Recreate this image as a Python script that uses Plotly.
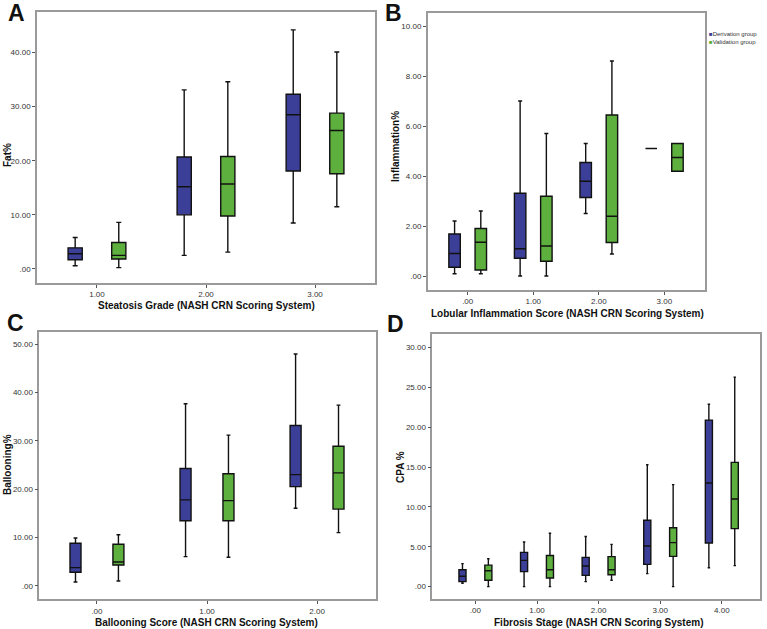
import plotly.graph_objects as go

# ---------------- data ----------------
# Panel A: Steatosis grade vs Fat%
A_cats = [1, 2, 3]
A_ticktext = ["1.00", "2.00", "3.00"]
A_der_low = [0.6, 2.5, 8.5]
A_der_q1 = [1.7, 10.0, 18.1]
A_der_med = [2.8, 15.2, 28.5]
A_der_q3 = [3.9, 20.7, 32.3]
A_der_up = [5.8, 33.1, 44.2]
A_val_low = [0.25, 3.1, 11.5]
A_val_q1 = [1.85, 9.8, 17.6]
A_val_med = [2.5, 15.7, 25.6]
A_val_q3 = [4.9, 20.8, 28.8]
A_val_up = [8.6, 34.6, 40.1]

# Panel B: Lobular inflammation vs Inflammation%
B_cats = [0, 1, 2, 3]
B_ticktext = [".00", "1.00", "2.00", "3.00"]
B_der_low = [0.09, 0.0, 2.5, 5.1]
B_der_q1 = [0.35, 0.71, 3.14, 5.1]
B_der_med = [0.9, 1.09, 3.79, 5.1]
B_der_q3 = [1.68, 3.31, 4.54, 5.1]
B_der_up = [2.2, 7.0, 5.3, 5.1]
B_val_low = [0.09, 0.0, 0.88, 4.19]
B_val_q1 = [0.24, 0.59, 1.34, 4.19]
B_val_med = [1.35, 1.2, 2.39, 4.74]
B_val_q3 = [1.9, 3.19, 6.44, 5.3]
B_val_up = [2.6, 5.7, 8.6, 5.3]

# Panel C: Ballooning score vs Ballooning%
C_cats = [0, 1, 2]
C_ticktext = [".00", "1.00", "2.00"]
C_der_low = [0.83, 6.07, 16.07]
C_der_q1 = [2.83, 13.5, 20.55]
C_der_med = [3.79, 17.8, 23.03]
C_der_q3 = [8.83, 24.3, 33.2]
C_der_up = [9.93, 37.7, 48.0]
C_val_low = [1.03, 5.93, 11.03]
C_val_q1 = [4.34, 13.5, 15.9]
C_val_med = [4.97, 17.65, 23.4]
C_val_q3 = [8.62, 23.2, 28.9]
C_val_up = [10.6, 31.2, 37.4]

# Panel D: Fibrosis stage vs CPA %
D_cats = [0, 1, 2, 3, 4]
D_ticktext = [".00", "1.00", "2.00", "3.00", "4.00"]
D_der_low = [0.42, 0.0, 0.63, 1.63, 2.38]
D_der_q1 = [0.63, 1.88, 1.42, 2.8, 5.48]
D_der_med = [1.3, 3.3, 2.6, 5.1, 13.0]
D_der_q3 = [2.13, 4.3, 3.68, 8.33, 20.9]
D_der_up = [2.89, 5.6, 6.3, 15.3, 22.9]
D_val_low = [0.0, 0.0, 0.8, 0.0, 2.64]
D_val_q1 = [0.8, 1.09, 1.5, 3.8, 7.28]
D_val_med = [2.0, 2.13, 2.13, 5.52, 11.0]
D_val_q3 = [2.7, 3.9, 3.77, 7.4, 15.6]
D_val_up = [3.5, 6.7, 5.3, 12.8, 26.3]

A_yticks = [0, 10, 20, 30, 40]
A_yticktext = [".00", "10.00", "20.00", "30.00", "40.00"]
B_yticks = [0, 2, 4, 6, 8, 10]
B_yticktext = [".00", "2.00", "4.00", "6.00", "8.00", "10.00"]
C_yticks = [0, 10, 20, 30, 40, 50]
C_yticktext = [".00", "10.00", "20.00", "30.00", "40.00", "50.00"]
D_yticks = [0, 5, 10, 15, 20, 25, 30]
D_yticktext = [".00", "5.00", "10.00", "15.00", "20.00", "25.00", "30.00"]

series_names = ["Derivation group", "Validation group"]
BLUE = "#3c3f97"
GREEN = "#5daf3e"

W, H = 767, 629
FONT = "Arial, Liberation Sans, sans-serif"

fig = go.Figure()

panels = [
    dict(ax="", cats=A_cats, der=(A_der_low, A_der_q1, A_der_med, A_der_q3, A_der_up),
         val=(A_val_low, A_val_q1, A_val_med, A_val_q3, A_val_up), off=0.2, w=0.13,
         xr=[0.45, 3.55], yr=[-2.6, 47.5], xd=[37, 375], yd=[12, 283],
         xtt=A_ticktext, yt=A_yticks, ytt=A_yticktext),
    dict(ax="2", cats=B_cats, der=(B_der_low, B_der_q1, B_der_med, B_der_q3, B_der_up),
         val=(B_val_low, B_val_q1, B_val_med, B_val_q3, B_val_up), off=0.2, w=0.175,
         xr=[-0.61, 3.62], yr=[-0.56, 10.52], xd=[427.7, 705], yd=[13, 290],
         xtt=B_ticktext, yt=B_yticks, ytt=B_yticktext),
    dict(ax="3", cats=C_cats, der=(C_der_low, C_der_q1, C_der_med, C_der_q3, C_der_up),
         val=(C_val_low, C_val_q1, C_val_med, C_val_q3, C_val_up), off=0.195, w=0.1,
         xr=[-0.524, 2.533], yr=[-2.76, 52.6], xd=[39.3, 375.7], yd=[331.7, 599.3],
         xtt=C_ticktext, yt=C_yticks, ytt=C_yticktext),
    dict(ax="4", cats=D_cats, der=(D_der_low, D_der_q1, D_der_med, D_der_q3, D_der_up),
         val=(D_val_low, D_val_q1, D_val_med, D_val_q3, D_val_up), off=0.21, w=0.115,
         xr=[-0.70, 4.62], yr=[-1.55, 31.67], xd=[432.3, 760], yd=[334.3, 599],
         xtt=D_ticktext, yt=D_yticks, ytt=D_yticktext),
]

layout_axes = {}
for p in panels:
    for stats, sign, color in ((p["der"], -1, BLUE), (p["val"], 1, GREEN)):
        low, q1, med, q3, up = stats
        fig.add_trace(go.Box(
            x=[c + sign * p["off"] for c in p["cats"]],
            lowerfence=low, q1=q1, median=med, q3=q3, upperfence=up,
            width=p["w"], whiskerwidth=0.35,
            fillcolor=color, line=dict(color="#111111", width=1.4),
            boxpoints=False, showlegend=False, hoverinfo="skip",
            xaxis="x" + p["ax"], yaxis="y" + p["ax"],
        ))
    xa = dict(domain=[p["xd"][0] / W, p["xd"][1] / W], range=p["xr"],
              tickvals=p["cats"], ticktext=p["xtt"], ticks="outside", ticklen=3,
              tickcolor="#555", tickwidth=1,
              showline=True, mirror=True, linecolor="#9a9a9a", linewidth=1.5,
              showgrid=False, zeroline=False, anchor="y" + p["ax"],
              tickfont=dict(size=8, color="#333", family=FONT))
    ya = dict(domain=[1 - p["yd"][1] / H, 1 - p["yd"][0] / H], range=p["yr"],
              tickvals=p["yt"], ticktext=p["ytt"], ticks="outside", ticklen=3,
              tickcolor="#555", tickwidth=1,
              showline=True, mirror=True, linecolor="#9a9a9a", linewidth=1.5,
              showgrid=False, zeroline=False, anchor="x" + p["ax"],
              tickfont=dict(size=8, color="#333", family=FONT))
    layout_axes["xaxis" + p["ax"]] = xa
    layout_axes["yaxis" + p["ax"]] = ya

annotations = []
def ann(text, x, y, size, angle=0, bold=True, xanchor="center", yanchor="middle", color="#111"):
    annotations.append(dict(text=("<b>%s</b>" % text) if bold else text,
                            x=x / W, y=1 - y / H, xref="paper", yref="paper",
                            showarrow=False, textangle=angle, xanchor=xanchor, yanchor=yanchor,
                            font=dict(size=size, family=FONT, color=color)))

# panel letters
ann("A", 6, 13, 23, xanchor="left")
ann("B", 383, 13, 23, xanchor="left")
ann("C", 5, 323, 23, xanchor="left")
ann("D", 385, 324, 23, xanchor="left")

# axis titles
ann("Steatosis Grade (NASH CRN Scoring System)", 206, 305, 10)
ann("Fat%", 8, 155, 10, angle=-90)
ann("Lobular Inflammation Score (NASH CRN Scoring System)", 567, 313, 10)
ann("Inflammation%", 396, 147, 10, angle=-90)
ann("Ballooning Score (NASH CRN Scoring System)", 207, 622, 10)
ann("Ballooning%", 7, 465, 10, angle=-90)
ann("Fibrosis Stage (NASH CRN Scoring System)", 598, 622, 10)
ann("CPA %", 400, 467, 10, angle=-90)

# legend
legend_text = "<br>".join("<span style='color:%s'>■</span>%s" % (col, name)
                          for name, col in zip(series_names, [BLUE, GREEN]))
annotations.append(dict(
    text=legend_text, align="left",
    x=708 / W, y=1 - 30 / H, xref="paper", yref="paper",
    showarrow=False, xanchor="left", yanchor="top", borderpad=0,
    font=dict(size=6, family=FONT, color="#333")))

fig.update_layout(
    width=W, height=H, margin=dict(l=0, r=0, t=0, b=0),
    paper_bgcolor="white", plot_bgcolor="white",
    boxmode="overlay", showlegend=False,
    annotations=annotations, **layout_axes,
)

fig.write_html("out.html", config={"displayModeBar": False},
               post_script="document.body.style.margin='0px';")
